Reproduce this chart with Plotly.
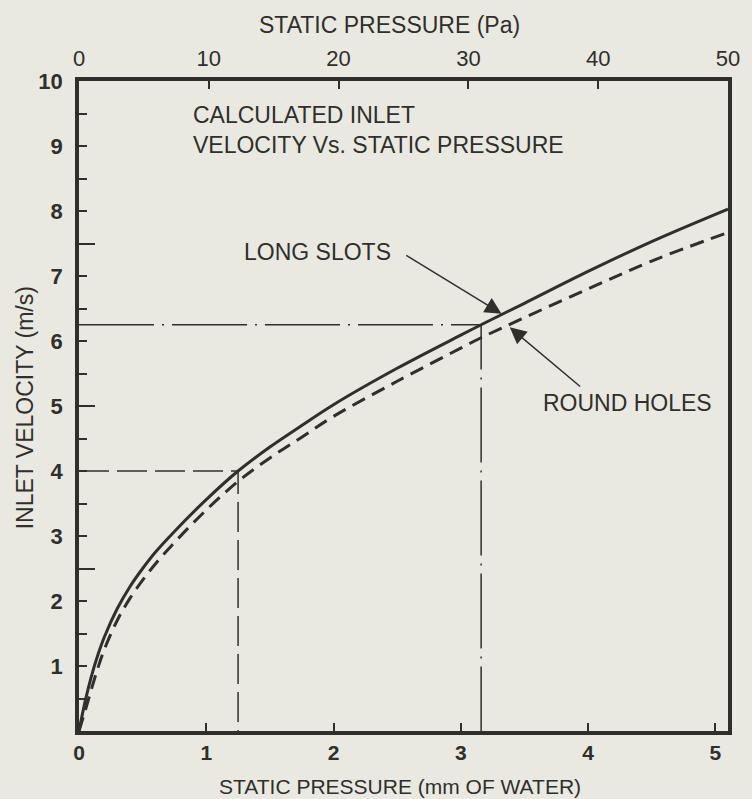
import plotly.graph_objects as go

# Static pressure (mm of water) sample points
pressure_mm = [0, 0.05, 0.1, 0.15, 0.2, 0.3, 0.4, 0.5, 0.6, 0.75, 1.0, 1.25, 1.5, 1.75,
               2.0, 2.5, 3.0, 3.16, 3.5, 4.0, 4.5, 5.1]
long_slots = [0, 0.47, 0.86, 1.18, 1.45, 1.88, 2.22, 2.5, 2.75, 3.07, 3.56, 4.0, 4.37, 4.7,
              5.02, 5.58, 6.09, 6.25, 6.58, 7.07, 7.53, 8.03]
round_holes = [0, 0.32, 0.66, 0.98, 1.26, 1.7, 2.04, 2.32, 2.57, 2.9, 3.4, 3.84, 4.2, 4.52,
               4.84, 5.38, 5.89, 6.05, 6.36, 6.8, 7.23, 7.67]

# Reference (read-off) points
ref_a = (1.25, 4.0)
ref_b = (3.16, 6.25)

y_ticks = [1, 2, 3, 4, 5, 6, 7, 8, 9, 10]
y_long_ticks = [2.5, 5, 7.5]
x_ticks_mm = [0, 1, 2, 3, 4, 5]
x_ticks_pa = [0, 10, 20, 30, 40, 50]

INK = "#2f2f2c"
BG = "#e9e9e1"
FONT = "Liberation Sans, Arial, sans-serif"

fig = go.Figure()
fig.add_trace(go.Scatter(x=pressure_mm, y=long_slots, mode="lines",
                         line=dict(color=INK, width=3, shape="spline", smoothing=1), showlegend=False))
fig.add_trace(go.Scatter(x=pressure_mm, y=round_holes, mode="lines",
                         line=dict(color=INK, width=3, dash="14px,8px", shape="spline", smoothing=1),
                         showlegend=False))
# dashed read-off lines at 4 m/s
fig.add_trace(go.Scatter(x=[0, ref_a[0], ref_a[0]], y=[ref_a[1], ref_a[1], 0], mode="lines",
                         line=dict(color=INK, width=1.5, dash="30px,8px"), showlegend=False))
# dash-dot read-off lines at 6.25 m/s
fig.add_trace(go.Scatter(x=[0, ref_b[0], ref_b[0]], y=[ref_b[1], ref_b[1], 0], mode="lines",
                         line=dict(color=INK, width=1.5, dash="75px,8px,2px,8px"), showlegend=False))
# invisible traces to activate the extra axes
fig.add_trace(go.Scatter(x=[0, 50], y=[0, 0], xaxis="x2", yaxis="y", mode="lines",
                         line=dict(width=0), hoverinfo="skip", showlegend=False))
fig.add_trace(go.Scatter(x=[0, 5.1], y=[0, 0], xaxis="x", yaxis="y3", mode="lines",
                         line=dict(width=0), hoverinfo="skip", showlegend=False))

titlefont = dict(family=FONT, size=23, color=INK)

fig.update_layout(
    width=752, height=799,
    margin=dict(l=79, r=19, t=81, b=68),
    paper_bgcolor=BG, plot_bgcolor=BG,
    xaxis=dict(range=[0, 5.1], tickvals=x_ticks_mm, ticks="inside", ticklen=8, tickwidth=2,
               tickcolor=INK, showline=True, linecolor=INK, linewidth=3.5, mirror=True,
               showgrid=False, zeroline=False,
               tickfont=dict(family=FONT, size=21, color=INK, weight="bold"),
               ticklabelstandoff=0, ticklabeloverflow="allow"),
    xaxis2=dict(range=[0, 50], overlaying="x", side="top", tickvals=x_ticks_pa, ticks="inside",
                ticklen=8, tickwidth=2, tickcolor=INK, showgrid=False, zeroline=False,
                tickfont=dict(family=FONT, size=22, color=INK),
                ticklabelstandoff=10, ticklabeloverflow="allow"),
    yaxis=dict(range=[0, 10], tickvals=y_ticks, ticks="inside", ticklen=8, tickwidth=2,
               tickcolor=INK, showline=True, linecolor=INK, linewidth=3.5, mirror=True,
               showgrid=False, zeroline=False,
               tickfont=dict(family=FONT, size=22, color=INK, weight="bold"),
               ticklabelstandoff=8,
               minor=dict(dtick=0.5, ticks="inside", ticklen=8, tickwidth=2, tickcolor=INK, showgrid=False)),
    yaxis3=dict(range=[0, 10], overlaying="y", side="left", tickvals=y_long_ticks, ticks="inside",
                ticklen=16, tickwidth=2, tickcolor=INK, showticklabels=False, showgrid=False,
                zeroline=False, showline=False),
)

# axis titles
fig.add_annotation(x=0.479, y=1 + (81 - 25) / 650, xref="paper", yref="paper",
                   text="STATIC PRESSURE (Pa)", showarrow=False, xanchor="center", yanchor="middle",
                   font=titlefont)
fig.add_annotation(x=0.495, y=-(786 - 731) / 650, xref="paper", yref="paper",
                   text="STATIC PRESSURE (mm OF WATER)", showarrow=False, xanchor="center",
                   yanchor="middle", font=dict(family=FONT, size=21, color=INK))
fig.add_annotation(x=-(79 - 25) / 654, y=0.497, xref="paper", yref="paper",
                   text="INLET VELOCITY (m/s)", showarrow=False, textangle=-90, xanchor="center",
                   yanchor="middle", font=titlefont)

ann_font = dict(family=FONT, size=23, color=INK)
fig.add_annotation(x=0.88, y=9.48, xref="x", yref="y", text="CALCULATED INLET", showarrow=False,
                   xanchor="left", yanchor="middle", font=ann_font)
fig.add_annotation(x=0.88, y=9.02, xref="x", yref="y", text="VELOCITY Vs. STATIC PRESSURE", showarrow=False,
                   xanchor="left", yanchor="middle", font=ann_font)
fig.add_annotation(x=2.465, y=7.37, xref="x", yref="y", text="LONG SLOTS", showarrow=False,
                   xanchor="right", yanchor="middle", font=ann_font)
fig.add_annotation(x=4.31, y=5.04, xref="x", yref="y", text="ROUND HOLES", showarrow=False,
                   xanchor="center", yanchor="middle", font=ann_font)
# arrows
fig.add_annotation(x=3.32, y=6.42, ax=2.56, ay=7.33, xref="x", yref="y", axref="x", ayref="y",
                   text="", showarrow=True, arrowhead=2, arrowsize=2.2, arrowwidth=1.5, arrowcolor=INK)
fig.add_annotation(x=3.385, y=6.21, ax=3.95, ay=5.28, xref="x", yref="y", axref="x", ayref="y",
                   text="", showarrow=True, arrowhead=2, arrowsize=2.2, arrowwidth=1.5, arrowcolor=INK)

fig.write_html(
    "out.html",
    config={"displayModeBar": False},
    post_script="document.body.style.margin='0';document.body.style.overflow='hidden';"
                "document.documentElement.style.overflow='hidden';",
)
